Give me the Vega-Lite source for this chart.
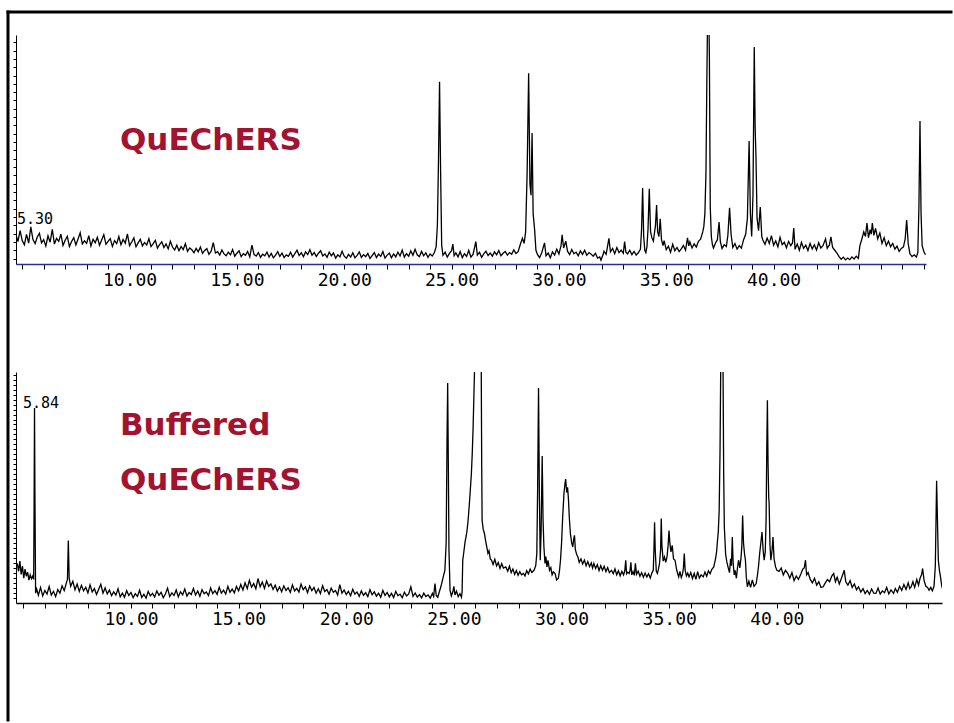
{
"$schema": "https://vega.github.io/schema/vega-lite/v6.json",
"padding": {"left": 5, "top": 9, "right": 0, "bottom": 0},
"background": "white",
"bounds": "flush",
"spacing": 108,
"config": {"view": {"stroke": null}, "axis": {"grid": false, "labelOverlap": false}},
"datasets": {
"quechers": [
{"time":4.72,"abundance":12.5},{"time":4.8,"abundance":9.8},{"time":4.9,"abundance":14.6},{"time":5.0,"abundance":10.2},{"time":5.1,"abundance":8.4},{"time":5.2,"abundance":12.9},{"time":5.3,"abundance":9.1},{"time":5.4,"abundance":16.2},{"time":5.5,"abundance":10.7},{"time":5.6,"abundance":8.9},
{"time":5.7,"abundance":11.8},{"time":5.8,"abundance":13.4},{"time":5.9,"abundance":9.2},{"time":6.0,"abundance":10.6},{"time":6.1,"abundance":7.8},{"time":6.2,"abundance":12.3},{"time":6.3,"abundance":9.5},{"time":6.4,"abundance":15.1},{"time":6.5,"abundance":8.7},{"time":6.6,"abundance":11.2},
{"time":6.7,"abundance":9.9},{"time":6.8,"abundance":13.0},{"time":6.9,"abundance":8.1},{"time":7.0,"abundance":10.4},{"time":7.1,"abundance":12.1},{"time":7.2,"abundance":7.6},{"time":7.3,"abundance":9.8},{"time":7.4,"abundance":11.5},{"time":7.5,"abundance":8.3},{"time":7.6,"abundance":10.9},
{"time":7.7,"abundance":13.6},{"time":7.8,"abundance":8.8},{"time":7.9,"abundance":10.1},{"time":8.0,"abundance":9.0},{"time":8.1,"abundance":12.4},{"time":8.2,"abundance":7.9},{"time":8.3,"abundance":10.8},{"time":8.4,"abundance":9.3},{"time":8.5,"abundance":11.7},{"time":8.6,"abundance":8.2},
{"time":8.7,"abundance":10.5},{"time":8.8,"abundance":12.8},{"time":8.9,"abundance":8.6},{"time":9.0,"abundance":9.9},{"time":9.1,"abundance":11.1},{"time":9.2,"abundance":7.7},{"time":9.3,"abundance":10.2},{"time":9.4,"abundance":8.9},{"time":9.5,"abundance":12.0},{"time":9.6,"abundance":8.4},
{"time":9.7,"abundance":10.7},{"time":9.8,"abundance":9.1},{"time":9.9,"abundance":13.2},{"time":10.0,"abundance":8.0},{"time":10.1,"abundance":9.6},{"time":10.2,"abundance":11.4},{"time":10.3,"abundance":7.5},{"time":10.4,"abundance":9.2},{"time":10.5,"abundance":10.8},{"time":10.6,"abundance":7.9},
{"time":10.7,"abundance":9.4},{"time":10.8,"abundance":8.3},{"time":10.9,"abundance":11.0},{"time":11.0,"abundance":7.6},{"time":11.1,"abundance":8.9},{"time":11.2,"abundance":10.3},{"time":11.3,"abundance":6.9},{"time":11.4,"abundance":8.5},{"time":11.5,"abundance":9.7},{"time":11.6,"abundance":7.2},
{"time":11.7,"abundance":8.8},{"time":11.8,"abundance":6.6},{"time":11.9,"abundance":9.9},{"time":12.0,"abundance":7.4},{"time":12.1,"abundance":6.1},{"time":12.2,"abundance":8.2},{"time":12.3,"abundance":5.8},{"time":12.4,"abundance":7.6},{"time":12.5,"abundance":6.3},{"time":12.6,"abundance":8.9},
{"time":12.7,"abundance":5.5},{"time":12.8,"abundance":7.0},{"time":12.9,"abundance":6.2},{"time":13.0,"abundance":4.9},{"time":13.1,"abundance":6.8},{"time":13.2,"abundance":5.3},{"time":13.3,"abundance":7.4},{"time":13.4,"abundance":4.6},{"time":13.5,"abundance":5.9},{"time":13.6,"abundance":6.7},
{"time":13.7,"abundance":4.2},{"time":13.8,"abundance":5.6},{"time":13.9,"abundance":9.3},{"time":14.0,"abundance":4.8},{"time":14.1,"abundance":5.4},{"time":14.2,"abundance":3.9},{"time":14.3,"abundance":6.1},{"time":14.4,"abundance":4.4},{"time":14.5,"abundance":3.6},{"time":14.6,"abundance":5.2},
{"time":14.7,"abundance":4.0},{"time":14.8,"abundance":6.3},{"time":14.9,"abundance":3.4},{"time":15.0,"abundance":4.7},{"time":15.1,"abundance":5.8},{"time":15.2,"abundance":3.2},{"time":15.3,"abundance":4.5},{"time":15.4,"abundance":3.8},{"time":15.5,"abundance":5.5},{"time":15.6,"abundance":3.1},
{"time":15.7,"abundance":8.2},{"time":15.8,"abundance":4.1},{"time":15.9,"abundance":3.5},{"time":16.0,"abundance":5.0},{"time":16.1,"abundance":2.9},{"time":16.2,"abundance":4.3},{"time":16.3,"abundance":3.6},{"time":16.4,"abundance":5.2},{"time":16.5,"abundance":3.0},{"time":16.6,"abundance":4.6},
{"time":16.7,"abundance":2.7},{"time":16.8,"abundance":3.9},{"time":16.9,"abundance":5.4},{"time":17.0,"abundance":3.3},{"time":17.1,"abundance":4.8},{"time":17.2,"abundance":2.8},{"time":17.3,"abundance":4.0},{"time":17.4,"abundance":3.4},{"time":17.5,"abundance":5.1},{"time":17.6,"abundance":3.0},
{"time":17.7,"abundance":4.5},{"time":17.8,"abundance":6.0},{"time":17.9,"abundance":3.7},{"time":18.0,"abundance":4.9},{"time":18.1,"abundance":3.2},{"time":18.2,"abundance":5.3},{"time":18.3,"abundance":4.1},{"time":18.4,"abundance":6.2},{"time":18.5,"abundance":3.8},{"time":18.6,"abundance":5.0},
{"time":18.7,"abundance":3.3},{"time":18.8,"abundance":4.7},{"time":18.9,"abundance":5.8},{"time":19.0,"abundance":3.5},{"time":19.1,"abundance":4.4},{"time":19.2,"abundance":2.9},{"time":19.3,"abundance":5.2},{"time":19.4,"abundance":3.6},{"time":19.5,"abundance":4.8},{"time":19.6,"abundance":2.6},
{"time":19.7,"abundance":4.0},{"time":19.8,"abundance":3.1},{"time":19.9,"abundance":5.6},{"time":20.0,"abundance":3.4},{"time":20.1,"abundance":2.5},{"time":20.2,"abundance":4.2},{"time":20.3,"abundance":3.0},{"time":20.4,"abundance":4.9},{"time":20.5,"abundance":2.7},{"time":20.6,"abundance":3.8},
{"time":20.7,"abundance":5.3},{"time":20.8,"abundance":2.9},{"time":20.9,"abundance":4.1},{"time":21.0,"abundance":3.2},{"time":21.1,"abundance":4.6},{"time":21.2,"abundance":2.4},{"time":21.3,"abundance":3.7},{"time":21.4,"abundance":5.0},{"time":21.5,"abundance":2.8},{"time":21.6,"abundance":4.3},
{"time":21.7,"abundance":3.3},{"time":21.8,"abundance":5.4},{"time":21.9,"abundance":2.6},{"time":22.0,"abundance":3.9},{"time":22.1,"abundance":4.8},{"time":22.2,"abundance":2.7},{"time":22.3,"abundance":4.4},{"time":22.4,"abundance":3.1},{"time":22.5,"abundance":5.2},{"time":22.6,"abundance":3.5},
{"time":22.7,"abundance":6.1},{"time":22.8,"abundance":3.0},{"time":22.9,"abundance":4.5},{"time":23.0,"abundance":3.4},{"time":23.1,"abundance":5.7},{"time":23.2,"abundance":3.8},{"time":23.3,"abundance":6.4},{"time":23.4,"abundance":4.0},{"time":23.5,"abundance":3.2},{"time":23.6,"abundance":5.5},
{"time":23.7,"abundance":3.6},{"time":23.8,"abundance":4.9},{"time":23.9,"abundance":2.9},{"time":24.0,"abundance":4.4},{"time":24.1,"abundance":3.5},{"time":24.2,"abundance":5.0},{"time":24.28,"abundance":7.5},{"time":24.34,"abundance":17.0},{"time":24.39,"abundance":45.0},{"time":24.44,"abundance":79.6},
{"time":24.49,"abundance":40.0},{"time":24.54,"abundance":8.0},{"time":24.6,"abundance":3.8},{"time":24.7,"abundance":5.2},{"time":24.8,"abundance":3.0},{"time":24.9,"abundance":4.6},{"time":25.0,"abundance":5.8},{"time":25.06,"abundance":8.7},{"time":25.12,"abundance":3.6},{"time":25.2,"abundance":4.9},
{"time":25.3,"abundance":3.1},{"time":25.4,"abundance":5.4},{"time":25.5,"abundance":2.8},{"time":25.6,"abundance":4.5},{"time":25.7,"abundance":3.3},{"time":25.8,"abundance":6.0},{"time":25.9,"abundance":3.0},{"time":26.0,"abundance":4.2},{"time":26.13,"abundance":9.8},{"time":26.2,"abundance":3.9},
{"time":26.3,"abundance":5.1},{"time":26.4,"abundance":2.9},{"time":26.5,"abundance":4.4},{"time":26.6,"abundance":5.6},{"time":26.7,"abundance":3.7},{"time":26.8,"abundance":4.8},{"time":26.9,"abundance":3.4},{"time":27.0,"abundance":5.3},{"time":27.1,"abundance":4.0},{"time":27.2,"abundance":5.9},
{"time":27.3,"abundance":3.6},{"time":27.4,"abundance":4.7},{"time":27.5,"abundance":5.5},{"time":27.6,"abundance":3.9},{"time":27.7,"abundance":5.0},{"time":27.8,"abundance":4.3},{"time":27.9,"abundance":6.2},{"time":28.0,"abundance":4.6},{"time":28.1,"abundance":5.4},{"time":28.2,"abundance":8.5},
{"time":28.3,"abundance":11.2},{"time":28.38,"abundance":9.0},{"time":28.45,"abundance":14.0},{"time":28.52,"abundance":40.0},{"time":28.59,"abundance":83.3},{"time":28.65,"abundance":35.0},{"time":28.7,"abundance":30.0},{"time":28.75,"abundance":57.2},{"time":28.8,"abundance":22.0},{"time":28.87,"abundance":14.8},
{"time":28.93,"abundance":6.0},{"time":29.0,"abundance":4.2},{"time":29.1,"abundance":2.8},{"time":29.2,"abundance":4.9},{"time":29.33,"abundance":9.2},{"time":29.4,"abundance":3.6},{"time":29.5,"abundance":4.8},{"time":29.6,"abundance":2.7},{"time":29.7,"abundance":5.3},{"time":29.8,"abundance":3.9},
{"time":29.9,"abundance":6.5},{"time":30.0,"abundance":4.4},{"time":30.1,"abundance":8.0},{"time":30.15,"abundance":12.7},{"time":30.22,"abundance":7.0},{"time":30.32,"abundance":10.0},{"time":30.4,"abundance":5.6},{"time":30.5,"abundance":4.1},{"time":30.6,"abundance":6.3},{"time":30.7,"abundance":4.5},
{"time":30.8,"abundance":5.2},{"time":30.9,"abundance":3.6},{"time":31.0,"abundance":5.7},{"time":31.1,"abundance":4.2},{"time":31.2,"abundance":6.0},{"time":31.3,"abundance":3.8},{"time":31.4,"abundance":5.0},{"time":31.5,"abundance":4.3},{"time":31.6,"abundance":3.4},{"time":31.7,"abundance":4.7},
{"time":31.8,"abundance":2.6},{"time":31.9,"abundance":3.1},{"time":31.96,"abundance":1.7},{"time":32.05,"abundance":3.9},{"time":32.1,"abundance":5.6},{"time":32.2,"abundance":4.2},{"time":32.33,"abundance":11.2},{"time":32.4,"abundance":5.3},{"time":32.5,"abundance":6.8},{"time":32.6,"abundance":4.5},
{"time":32.7,"abundance":7.2},{"time":32.8,"abundance":5.0},{"time":32.9,"abundance":6.1},{"time":33.0,"abundance":4.7},{"time":33.06,"abundance":9.8},{"time":33.12,"abundance":5.2},{"time":33.2,"abundance":4.4},{"time":33.3,"abundance":6.0},{"time":33.4,"abundance":4.1},{"time":33.5,"abundance":5.5},
{"time":33.6,"abundance":3.9},{"time":33.7,"abundance":4.9},{"time":33.8,"abundance":6.5},{"time":33.85,"abundance":15.0},{"time":33.9,"abundance":33.2},{"time":33.95,"abundance":12.0},{"time":34.0,"abundance":6.0},{"time":34.05,"abundance":5.0},{"time":34.1,"abundance":7.5},{"time":34.15,"abundance":15.0},
{"time":34.21,"abundance":32.8},{"time":34.27,"abundance":14.0},{"time":34.33,"abundance":11.5},{"time":34.4,"abundance":10.0},{"time":34.45,"abundance":13.5},{"time":34.5,"abundance":17.0},{"time":34.55,"abundance":25.8},{"time":34.6,"abundance":14.0},{"time":34.66,"abundance":12.0},{"time":34.72,"abundance":19.7},
{"time":34.78,"abundance":10.5},{"time":34.85,"abundance":8.0},{"time":34.9,"abundance":10.2},{"time":35.0,"abundance":6.3},{"time":35.1,"abundance":7.8},{"time":35.2,"abundance":5.1},{"time":35.3,"abundance":8.6},{"time":35.4,"abundance":5.8},{"time":35.5,"abundance":7.2},{"time":35.6,"abundance":5.4},
{"time":35.7,"abundance":6.6},{"time":35.8,"abundance":8.1},{"time":35.9,"abundance":6.0},{"time":35.99,"abundance":11.4},{"time":36.05,"abundance":7.9},{"time":36.1,"abundance":9.6},{"time":36.2,"abundance":7.0},{"time":36.3,"abundance":8.8},{"time":36.4,"abundance":7.4},{"time":36.5,"abundance":9.9},
{"time":36.6,"abundance":10.8},{"time":36.7,"abundance":14.0},{"time":36.75,"abundance":16.3},{"time":36.8,"abundance":22.0},{"time":36.85,"abundance":40.0},{"time":36.89,"abundance":79.0},{"time":36.93,"abundance":112.0},{"time":36.97,"abundance":120.0},{"time":37.01,"abundance":90.0},{"time":37.05,"abundance":25.0},
{"time":37.1,"abundance":12.0},{"time":37.15,"abundance":8.5},{"time":37.2,"abundance":7.0},{"time":37.3,"abundance":9.3},{"time":37.38,"abundance":10.5},{"time":37.46,"abundance":18.3},{"time":37.52,"abundance":9.8},{"time":37.6,"abundance":6.8},{"time":37.7,"abundance":8.4},{"time":37.8,"abundance":7.6},
{"time":37.87,"abundance":12.5},{"time":37.95,"abundance":24.5},{"time":38.02,"abundance":13.0},{"time":38.1,"abundance":7.2},{"time":38.2,"abundance":8.9},{"time":38.3,"abundance":6.5},{"time":38.4,"abundance":8.0},{"time":38.5,"abundance":6.9},{"time":38.6,"abundance":10.5},{"time":38.7,"abundance":13.0},
{"time":38.78,"abundance":20.0},{"time":38.86,"abundance":53.7},{"time":38.92,"abundance":22.0},{"time":38.98,"abundance":12.0},{"time":39.04,"abundance":30.0},{"time":39.1,"abundance":94.8},{"time":39.14,"abundance":60.0},{"time":39.18,"abundance":46.7},{"time":39.23,"abundance":20.0},{"time":39.3,"abundance":14.5},
{"time":39.38,"abundance":24.9},{"time":39.45,"abundance":12.0},{"time":39.5,"abundance":10.5},{"time":39.6,"abundance":8.6},{"time":39.7,"abundance":11.3},{"time":39.8,"abundance":9.0},{"time":39.9,"abundance":12.4},{"time":40.0,"abundance":8.2},{"time":40.1,"abundance":10.1},{"time":40.2,"abundance":7.5},
{"time":40.3,"abundance":11.6},{"time":40.4,"abundance":8.4},{"time":40.5,"abundance":9.5},{"time":40.6,"abundance":7.1},{"time":40.7,"abundance":9.9},{"time":40.8,"abundance":8.0},{"time":40.88,"abundance":9.2},{"time":40.94,"abundance":15.7},{"time":41.0,"abundance":6.4},{"time":41.1,"abundance":8.7},
{"time":41.2,"abundance":6.0},{"time":41.3,"abundance":9.4},{"time":41.4,"abundance":6.8},{"time":41.5,"abundance":8.2},{"time":41.6,"abundance":5.9},{"time":41.7,"abundance":9.0},{"time":41.8,"abundance":6.6},{"time":41.9,"abundance":8.4},{"time":42.0,"abundance":6.1},{"time":42.1,"abundance":9.3},
{"time":42.2,"abundance":7.0},{"time":42.3,"abundance":8.0},{"time":42.42,"abundance":11.0},{"time":42.5,"abundance":6.9},{"time":42.6,"abundance":8.3},{"time":42.67,"abundance":11.8},{"time":42.75,"abundance":7.2},{"time":42.85,"abundance":6.0},{"time":42.95,"abundance":4.8},{"time":43.05,"abundance":3.2},
{"time":43.15,"abundance":2.1},{"time":43.25,"abundance":3.0},{"time":43.35,"abundance":1.8},{"time":43.45,"abundance":2.6},{"time":43.55,"abundance":1.9},{"time":43.65,"abundance":3.1},{"time":43.75,"abundance":2.2},{"time":43.85,"abundance":3.4},{"time":43.95,"abundance":2.5},{"time":44.02,"abundance":8.0},
{"time":44.1,"abundance":10.5},{"time":44.2,"abundance":14.0},{"time":44.28,"abundance":12.0},{"time":44.35,"abundance":17.9},{"time":44.42,"abundance":11.5},{"time":44.5,"abundance":15.0},{"time":44.55,"abundance":13.0},{"time":44.6,"abundance":17.9},{"time":44.67,"abundance":12.5},{"time":44.75,"abundance":15.5},
{"time":44.85,"abundance":11.0},{"time":44.95,"abundance":13.5},{"time":45.05,"abundance":9.0},{"time":45.15,"abundance":11.5},{"time":45.25,"abundance":8.0},{"time":45.35,"abundance":10.0},{"time":45.45,"abundance":7.5},{"time":45.55,"abundance":9.0},{"time":45.65,"abundance":6.5},{"time":45.75,"abundance":7.8},
{"time":45.85,"abundance":5.5},{"time":45.95,"abundance":6.8},{"time":46.05,"abundance":7.5},{"time":46.13,"abundance":11.0},{"time":46.2,"abundance":19.2},{"time":46.27,"abundance":9.0},{"time":46.35,"abundance":4.5},{"time":46.45,"abundance":3.2},{"time":46.55,"abundance":4.0},{"time":46.65,"abundance":3.0},
{"time":46.72,"abundance":5.0},{"time":46.77,"abundance":25.0},{"time":46.82,"abundance":62.4},{"time":46.87,"abundance":22.0},{"time":46.92,"abundance":8.0},{"time":47.0,"abundance":5.5},{"time":47.07,"abundance":4.0}
],
"buffered": [
{"time":4.72,"abundance":16.0},{"time":4.78,"abundance":12.5},{"time":4.84,"abundance":17.0},{"time":4.9,"abundance":11.2},{"time":4.96,"abundance":14.8},{"time":5.02,"abundance":9.6},{"time":5.08,"abundance":13.5},{"time":5.14,"abundance":10.4},{"time":5.2,"abundance":12.2},{"time":5.26,"abundance":8.7},
{"time":5.32,"abundance":11.0},{"time":5.38,"abundance":9.3},{"time":5.44,"abundance":10.5},{"time":5.48,"abundance":9.0},{"time":5.5,"abundance":40.0},{"time":5.52,"abundance":84.0},{"time":5.54,"abundance":45.0},{"time":5.57,"abundance":3.0},{"time":5.62,"abundance":4.8},{"time":5.7,"abundance":2.1},
{"time":5.8,"abundance":5.5},{"time":5.9,"abundance":1.8},{"time":6.0,"abundance":4.2},{"time":6.1,"abundance":2.6},{"time":6.2,"abundance":5.9},{"time":6.3,"abundance":2.2},{"time":6.4,"abundance":3.8},{"time":6.5,"abundance":1.5},{"time":6.6,"abundance":4.6},{"time":6.7,"abundance":3.0},
{"time":6.8,"abundance":6.2},{"time":6.9,"abundance":4.1},{"time":7.0,"abundance":7.5},{"time":7.05,"abundance":9.0},{"time":7.09,"abundance":26.0},{"time":7.13,"abundance":9.5},{"time":7.2,"abundance":6.0},{"time":7.3,"abundance":8.2},{"time":7.4,"abundance":4.5},{"time":7.5,"abundance":7.0},
{"time":7.6,"abundance":3.8},{"time":7.7,"abundance":6.4},{"time":7.8,"abundance":4.0},{"time":7.9,"abundance":5.6},{"time":8.0,"abundance":3.1},{"time":8.1,"abundance":6.6},{"time":8.2,"abundance":3.5},{"time":8.3,"abundance":5.0},{"time":8.4,"abundance":2.4},{"time":8.5,"abundance":4.7},
{"time":8.6,"abundance":6.9},{"time":8.7,"abundance":3.0},{"time":8.8,"abundance":5.3},{"time":8.9,"abundance":2.7},{"time":9.0,"abundance":4.4},{"time":9.1,"abundance":1.9},{"time":9.2,"abundance":3.6},{"time":9.3,"abundance":2.2},{"time":9.4,"abundance":4.9},{"time":9.5,"abundance":1.4},
{"time":9.6,"abundance":3.0},{"time":9.7,"abundance":1.2},{"time":9.8,"abundance":4.1},{"time":9.9,"abundance":2.0},{"time":10.0,"abundance":3.3},{"time":10.1,"abundance":1.0},{"time":10.2,"abundance":2.8},{"time":10.3,"abundance":1.6},{"time":10.4,"abundance":4.3},{"time":10.5,"abundance":1.1},
{"time":10.6,"abundance":2.5},{"time":10.7,"abundance":0.8},{"time":10.8,"abundance":3.7},{"time":10.9,"abundance":1.8},{"time":11.0,"abundance":2.9},{"time":11.1,"abundance":1.3},{"time":11.2,"abundance":4.0},{"time":11.3,"abundance":2.1},{"time":11.4,"abundance":3.4},{"time":11.5,"abundance":1.0},
{"time":11.6,"abundance":2.6},{"time":11.7,"abundance":5.2},{"time":11.8,"abundance":1.5},{"time":11.9,"abundance":3.1},{"time":12.0,"abundance":2.0},{"time":12.1,"abundance":4.4},{"time":12.2,"abundance":1.4},{"time":12.3,"abundance":3.6},{"time":12.4,"abundance":2.3},{"time":12.5,"abundance":4.8},
{"time":12.6,"abundance":1.7},{"time":12.7,"abundance":3.3},{"time":12.8,"abundance":2.4},{"time":12.9,"abundance":5.0},{"time":13.0,"abundance":2.2},{"time":13.1,"abundance":3.9},{"time":13.2,"abundance":1.6},{"time":13.3,"abundance":4.5},{"time":13.4,"abundance":2.7},{"time":13.5,"abundance":3.5},
{"time":13.6,"abundance":1.9},{"time":13.7,"abundance":5.3},{"time":13.8,"abundance":2.8},{"time":13.9,"abundance":4.1},{"time":14.0,"abundance":2.5},{"time":14.1,"abundance":5.6},{"time":14.2,"abundance":3.0},{"time":14.3,"abundance":4.3},{"time":14.4,"abundance":2.6},{"time":14.5,"abundance":6.0},
{"time":14.6,"abundance":3.4},{"time":14.7,"abundance":4.8},{"time":14.8,"abundance":3.1},{"time":14.9,"abundance":5.9},{"time":15.0,"abundance":4.0},{"time":15.1,"abundance":6.8},{"time":15.2,"abundance":4.4},{"time":15.3,"abundance":7.5},{"time":15.4,"abundance":5.0},{"time":15.5,"abundance":8.6},
{"time":15.6,"abundance":5.6},{"time":15.7,"abundance":7.2},{"time":15.8,"abundance":4.9},{"time":15.9,"abundance":9.4},{"time":16.0,"abundance":5.8},{"time":16.1,"abundance":7.9},{"time":16.2,"abundance":5.1},{"time":16.3,"abundance":8.3},{"time":16.4,"abundance":6.0},{"time":16.5,"abundance":7.0},
{"time":16.6,"abundance":4.6},{"time":16.7,"abundance":6.5},{"time":16.8,"abundance":3.9},{"time":16.9,"abundance":5.7},{"time":17.0,"abundance":3.6},{"time":17.1,"abundance":6.2},{"time":17.2,"abundance":4.2},{"time":17.3,"abundance":5.4},{"time":17.4,"abundance":3.3},{"time":17.5,"abundance":6.6},
{"time":17.6,"abundance":4.0},{"time":17.7,"abundance":5.1},{"time":17.8,"abundance":3.5},{"time":17.9,"abundance":7.0},{"time":18.0,"abundance":4.5},{"time":18.1,"abundance":5.8},{"time":18.2,"abundance":3.2},{"time":18.3,"abundance":6.1},{"time":18.4,"abundance":4.1},{"time":18.5,"abundance":5.5},
{"time":18.6,"abundance":3.0},{"time":18.7,"abundance":4.9},{"time":18.8,"abundance":2.8},{"time":18.9,"abundance":6.3},{"time":19.0,"abundance":3.7},{"time":19.1,"abundance":4.6},{"time":19.2,"abundance":2.5},{"time":19.3,"abundance":5.2},{"time":19.4,"abundance":3.4},{"time":19.5,"abundance":4.2},
{"time":19.6,"abundance":2.2},{"time":19.7,"abundance":6.7},{"time":19.8,"abundance":3.0},{"time":19.9,"abundance":4.4},{"time":20.0,"abundance":2.4},{"time":20.1,"abundance":3.8},{"time":20.2,"abundance":1.9},{"time":20.3,"abundance":4.7},{"time":20.4,"abundance":2.6},{"time":20.5,"abundance":3.5},
{"time":20.6,"abundance":1.6},{"time":20.7,"abundance":4.0},{"time":20.8,"abundance":2.1},{"time":20.9,"abundance":3.2},{"time":21.0,"abundance":1.5},{"time":21.1,"abundance":4.5},{"time":21.2,"abundance":2.3},{"time":21.3,"abundance":3.6},{"time":21.4,"abundance":1.7},{"time":21.5,"abundance":3.0},
{"time":21.6,"abundance":1.2},{"time":21.7,"abundance":4.2},{"time":21.8,"abundance":2.0},{"time":21.9,"abundance":3.3},{"time":22.0,"abundance":1.4},{"time":22.1,"abundance":2.9},{"time":22.2,"abundance":1.1},{"time":22.3,"abundance":3.8},{"time":22.4,"abundance":1.9},{"time":22.5,"abundance":2.6},
{"time":22.6,"abundance":1.0},{"time":22.7,"abundance":3.4},{"time":22.8,"abundance":1.8},{"time":22.9,"abundance":2.7},{"time":23.0,"abundance":5.8},{"time":23.1,"abundance":1.6},{"time":23.2,"abundance":3.1},{"time":23.3,"abundance":1.3},{"time":23.4,"abundance":2.4},{"time":23.5,"abundance":0.9},
{"time":23.6,"abundance":3.0},{"time":23.7,"abundance":1.5},{"time":23.8,"abundance":2.2},{"time":23.9,"abundance":0.8},{"time":24.0,"abundance":2.9},{"time":24.06,"abundance":1.6},{"time":24.12,"abundance":7.2},{"time":24.18,"abundance":2.0},{"time":24.25,"abundance":1.2},{"time":24.32,"abundance":3.5},
{"time":24.4,"abundance":6.0},{"time":24.5,"abundance":10.0},{"time":24.58,"abundance":13.0},{"time":24.64,"abundance":25.0},{"time":24.68,"abundance":70.0},{"time":24.71,"abundance":94.9},{"time":24.74,"abundance":60.0},{"time":24.77,"abundance":22.0},{"time":24.82,"abundance":4.3},{"time":24.88,"abundance":1.8},
{"time":24.95,"abundance":3.6},{"time":25.0,"abundance":6.0},{"time":25.05,"abundance":2.2},{"time":25.12,"abundance":3.9},{"time":25.2,"abundance":1.5},{"time":25.28,"abundance":2.8},{"time":25.35,"abundance":1.2},{"time":25.38,"abundance":3.5},{"time":25.41,"abundance":17.4},{"time":25.46,"abundance":21.0},
{"time":25.52,"abundance":25.5},{"time":25.57,"abundance":28.0},{"time":25.61,"abundance":30.4},{"time":25.66,"abundance":35.0},{"time":25.71,"abundance":41.0},{"time":25.77,"abundance":49.3},{"time":25.81,"abundance":55.0},{"time":25.85,"abundance":63.8},{"time":25.89,"abundance":75.0},{"time":25.93,"abundance":90.0},
{"time":25.97,"abundance":105.0},{"time":26.03,"abundance":130.0},{"time":26.1,"abundance":150.0},{"time":26.17,"abundance":140.0},{"time":26.23,"abundance":118.0},{"time":26.27,"abundance":100.0},{"time":26.29,"abundance":60.0},{"time":26.31,"abundance":34.8},{"time":26.36,"abundance":31.0},{"time":26.42,"abundance":29.0},
{"time":26.47,"abundance":26.0},{"time":26.53,"abundance":23.0},{"time":26.58,"abundance":20.4},{"time":26.63,"abundance":21.5},{"time":26.69,"abundance":18.0},{"time":26.75,"abundance":17.4},{"time":26.82,"abundance":15.5},{"time":26.9,"abundance":17.8},{"time":26.98,"abundance":14.9},{"time":27.06,"abundance":16.4},
{"time":27.14,"abundance":13.8},{"time":27.22,"abundance":15.9},{"time":27.3,"abundance":14.0},{"time":27.41,"abundance":14.5},{"time":27.5,"abundance":12.6},{"time":27.58,"abundance":14.8},{"time":27.66,"abundance":12.0},{"time":27.74,"abundance":13.6},{"time":27.82,"abundance":11.2},{"time":27.9,"abundance":12.9},
{"time":27.98,"abundance":10.8},{"time":28.06,"abundance":12.4},{"time":28.14,"abundance":11.0},{"time":28.23,"abundance":11.6},{"time":28.3,"abundance":10.5},{"time":28.38,"abundance":12.8},{"time":28.46,"abundance":11.4},{"time":28.54,"abundance":13.5},{"time":28.62,"abundance":12.1},{"time":28.72,"abundance":13.0},
{"time":28.8,"abundance":15.0},{"time":28.85,"abundance":20.3},{"time":28.89,"abundance":50.0},{"time":28.93,"abundance":92.7},{"time":28.97,"abundance":45.0},{"time":29.01,"abundance":17.4},{"time":29.05,"abundance":30.0},{"time":29.1,"abundance":63.0},{"time":29.14,"abundance":35.0},{"time":29.18,"abundance":23.2},
{"time":29.23,"abundance":16.0},{"time":29.27,"abundance":19.0},{"time":29.32,"abundance":14.5},{"time":29.37,"abundance":17.4},{"time":29.44,"abundance":13.0},{"time":29.5,"abundance":14.2},{"time":29.56,"abundance":11.0},{"time":29.62,"abundance":12.3},{"time":29.7,"abundance":11.6},{"time":29.77,"abundance":8.8},
{"time":29.85,"abundance":9.5},{"time":29.9,"abundance":12.5},{"time":29.95,"abundance":17.4},{"time":30.0,"abundance":25.0},{"time":30.05,"abundance":36.0},{"time":30.11,"abundance":46.4},{"time":30.16,"abundance":51.0},{"time":30.19,"abundance":52.9},{"time":30.24,"abundance":47.0},{"time":30.28,"abundance":49.3},
{"time":30.32,"abundance":44.0},{"time":30.36,"abundance":36.0},{"time":30.41,"abundance":29.0},{"time":30.47,"abundance":25.0},{"time":30.52,"abundance":23.2},{"time":30.56,"abundance":26.5},{"time":30.6,"abundance":28.3},{"time":30.64,"abundance":22.0},{"time":30.7,"abundance":20.0},{"time":30.76,"abundance":18.8},
{"time":30.82,"abundance":16.5},{"time":30.9,"abundance":18.0},{"time":30.98,"abundance":15.8},{"time":31.06,"abundance":17.5},{"time":31.14,"abundance":15.0},{"time":31.22,"abundance":16.8},{"time":31.3,"abundance":14.6},{"time":31.38,"abundance":16.2},{"time":31.44,"abundance":14.0},{"time":31.5,"abundance":16.0},
{"time":31.58,"abundance":13.8},{"time":31.66,"abundance":15.5},{"time":31.74,"abundance":12.9},{"time":31.82,"abundance":15.0},{"time":31.9,"abundance":13.0},{"time":31.98,"abundance":14.7},{"time":32.06,"abundance":12.4},{"time":32.14,"abundance":14.2},{"time":32.22,"abundance":12.0},{"time":32.32,"abundance":13.0},
{"time":32.4,"abundance":11.5},{"time":32.48,"abundance":13.6},{"time":32.56,"abundance":11.0},{"time":32.64,"abundance":12.8},{"time":32.72,"abundance":10.6},{"time":32.8,"abundance":12.5},{"time":32.88,"abundance":11.0},{"time":32.94,"abundance":13.0},{"time":32.98,"abundance":17.4},{"time":33.02,"abundance":11.5},
{"time":33.08,"abundance":12.2},{"time":33.14,"abundance":11.6},{"time":33.18,"abundance":13.0},{"time":33.22,"abundance":16.5},{"time":33.26,"abundance":11.0},{"time":33.32,"abundance":12.4},{"time":33.38,"abundance":10.8},{"time":33.43,"abundance":16.0},{"time":33.48,"abundance":11.2},{"time":33.56,"abundance":12.6},
{"time":33.64,"abundance":10.4},{"time":33.72,"abundance":12.0},{"time":33.8,"abundance":10.0},{"time":33.88,"abundance":11.8},{"time":33.96,"abundance":10.1},{"time":34.04,"abundance":11.5},{"time":34.12,"abundance":9.6},{"time":34.2,"abundance":12.0},{"time":34.26,"abundance":13.0},{"time":34.29,"abundance":22.0},
{"time":34.32,"abundance":34.0},{"time":34.35,"abundance":22.0},{"time":34.4,"abundance":12.5},{"time":34.45,"abundance":11.6},{"time":34.5,"abundance":13.5},{"time":34.55,"abundance":16.0},{"time":34.6,"abundance":22.0},{"time":34.63,"abundance":35.6},{"time":34.66,"abundance":24.0},{"time":34.72,"abundance":17.0},
{"time":34.78,"abundance":18.8},{"time":34.84,"abundance":16.5},{"time":34.9,"abundance":19.0},{"time":34.95,"abundance":24.0},{"time":34.99,"abundance":30.4},{"time":35.03,"abundance":25.0},{"time":35.08,"abundance":21.0},{"time":35.14,"abundance":23.9},{"time":35.2,"abundance":18.0},{"time":35.27,"abundance":17.4},
{"time":35.35,"abundance":13.0},{"time":35.44,"abundance":10.1},{"time":35.5,"abundance":12.5},{"time":35.56,"abundance":9.8},{"time":35.62,"abundance":11.4},{"time":35.66,"abundance":14.0},{"time":35.7,"abundance":20.3},{"time":35.74,"abundance":13.0},{"time":35.8,"abundance":10.5},{"time":35.86,"abundance":11.8},
{"time":35.92,"abundance":10.1},{"time":36.0,"abundance":12.0},{"time":36.08,"abundance":9.4},{"time":36.16,"abundance":11.6},{"time":36.24,"abundance":9.0},{"time":36.32,"abundance":12.4},{"time":36.4,"abundance":9.6},{"time":36.48,"abundance":11.0},{"time":36.58,"abundance":10.1},{"time":36.66,"abundance":12.2},
{"time":36.74,"abundance":10.4},{"time":36.82,"abundance":12.8},{"time":36.9,"abundance":11.5},{"time":36.98,"abundance":13.4},{"time":37.07,"abundance":14.5},{"time":37.15,"abundance":18.0},{"time":37.2,"abundance":21.0},{"time":37.23,"abundance":24.6},{"time":37.28,"abundance":30.0},{"time":37.32,"abundance":39.0},
{"time":37.36,"abundance":65.0},{"time":37.4,"abundance":110.0},{"time":37.45,"abundance":140.0},{"time":37.5,"abundance":100.0},{"time":37.53,"abundance":55.0},{"time":37.56,"abundance":32.0},{"time":37.62,"abundance":20.0},{"time":37.67,"abundance":17.0},{"time":37.73,"abundance":14.5},{"time":37.8,"abundance":12.0},
{"time":37.85,"abundance":18.0},{"time":37.89,"abundance":15.0},{"time":37.93,"abundance":27.5},{"time":37.97,"abundance":16.0},{"time":38.02,"abundance":11.0},{"time":38.06,"abundance":13.0},{"time":38.12,"abundance":9.5},{"time":38.17,"abundance":14.0},{"time":38.22,"abundance":17.4},{"time":38.28,"abundance":14.0},
{"time":38.33,"abundance":18.0},{"time":38.37,"abundance":23.0},{"time":38.41,"abundance":37.0},{"time":38.45,"abundance":25.0},{"time":38.5,"abundance":20.0},{"time":38.54,"abundance":17.4},{"time":38.58,"abundance":10.0},{"time":38.63,"abundance":5.8},{"time":38.7,"abundance":8.2},{"time":38.78,"abundance":5.5},
{"time":38.86,"abundance":8.8},{"time":38.94,"abundance":6.0},{"time":39.04,"abundance":7.2},{"time":39.1,"abundance":11.0},{"time":39.15,"abundance":15.0},{"time":39.2,"abundance":20.3},{"time":39.25,"abundance":24.5},{"time":39.31,"abundance":29.7},{"time":39.36,"abundance":22.0},{"time":39.41,"abundance":17.4},
{"time":39.46,"abundance":21.0},{"time":39.5,"abundance":35.0},{"time":39.53,"abundance":65.0},{"time":39.56,"abundance":87.3},{"time":39.59,"abundance":60.0},{"time":39.62,"abundance":45.0},{"time":39.64,"abundance":42.7},{"time":39.68,"abundance":24.0},{"time":39.72,"abundance":17.4},{"time":39.77,"abundance":21.0},
{"time":39.82,"abundance":27.5},{"time":39.87,"abundance":18.0},{"time":39.94,"abundance":14.5},{"time":40.0,"abundance":13.0},{"time":40.1,"abundance":12.5},{"time":40.2,"abundance":14.0},{"time":40.3,"abundance":11.0},{"time":40.4,"abundance":13.0},{"time":40.51,"abundance":11.6},{"time":40.6,"abundance":9.5},
{"time":40.7,"abundance":12.0},{"time":40.8,"abundance":8.5},{"time":40.9,"abundance":10.5},{"time":41.0,"abundance":9.0},{"time":41.1,"abundance":11.0},{"time":41.2,"abundance":13.5},{"time":41.27,"abundance":14.0},{"time":41.33,"abundance":17.4},{"time":41.38,"abundance":11.0},{"time":41.45,"abundance":12.0},
{"time":41.55,"abundance":9.0},{"time":41.65,"abundance":7.5},{"time":41.75,"abundance":9.5},{"time":41.85,"abundance":6.5},{"time":41.95,"abundance":8.0},{"time":42.05,"abundance":5.5},{"time":42.15,"abundance":5.8},{"time":42.25,"abundance":7.5},{"time":42.35,"abundance":9.0},{"time":42.45,"abundance":8.0},
{"time":42.55,"abundance":10.5},{"time":42.64,"abundance":11.6},{"time":42.72,"abundance":8.0},{"time":42.8,"abundance":10.0},{"time":42.9,"abundance":7.0},{"time":43.0,"abundance":9.5},{"time":43.13,"abundance":13.0},{"time":43.2,"abundance":8.0},{"time":43.3,"abundance":6.5},{"time":43.4,"abundance":8.5},
{"time":43.5,"abundance":5.5},{"time":43.6,"abundance":7.0},{"time":43.7,"abundance":4.5},{"time":43.79,"abundance":5.8},{"time":43.9,"abundance":3.5},{"time":44.0,"abundance":5.0},{"time":44.1,"abundance":2.8},{"time":44.2,"abundance":4.2},{"time":44.3,"abundance":2.5},{"time":44.4,"abundance":4.8},
{"time":44.5,"abundance":3.0},{"time":44.6,"abundance":2.9},{"time":44.7,"abundance":5.2},{"time":44.8,"abundance":2.6},{"time":44.9,"abundance":4.0},{"time":45.0,"abundance":3.2},{"time":45.1,"abundance":5.5},{"time":45.2,"abundance":2.7},{"time":45.3,"abundance":4.4},{"time":45.42,"abundance":2.9},
{"time":45.5,"abundance":5.0},{"time":45.6,"abundance":3.4},{"time":45.7,"abundance":6.0},{"time":45.8,"abundance":4.2},{"time":45.9,"abundance":6.8},{"time":46.0,"abundance":4.6},{"time":46.1,"abundance":7.5},{"time":46.17,"abundance":5.0},{"time":46.24,"abundance":5.8},{"time":46.32,"abundance":8.0},
{"time":46.4,"abundance":5.5},{"time":46.5,"abundance":9.0},{"time":46.58,"abundance":6.5},{"time":46.65,"abundance":9.5},{"time":46.72,"abundance":11.0},{"time":46.77,"abundance":13.8},{"time":46.84,"abundance":8.5},{"time":46.92,"abundance":6.0},{"time":47.0,"abundance":5.5},{"time":47.07,"abundance":4.3},
{"time":47.15,"abundance":5.5},{"time":47.22,"abundance":4.0},{"time":47.3,"abundance":6.0},{"time":47.36,"abundance":15.0},{"time":47.42,"abundance":52.2},{"time":47.47,"abundance":30.0},{"time":47.5,"abundance":17.4},{"time":47.55,"abundance":13.0},{"time":47.6,"abundance":10.1},{"time":47.66,"abundance":6.0},{"time":47.72,"abundance":4.3}
]
},
"vconcat": [
{
"width": 910, "height": 229,
"layer": [
{"data": {"name": "quechers"},
 "mark": {"type": "line", "color": "black", "strokeWidth": 1.3, "clip": true},
 "encoding": {
  "x": {"field": "time", "type": "quantitative",
        "scale": {"domain": [4.71, 47.1], "nice": false, "zero": false},
        "axis": {"title": null, "tickCount": 500, "values": [5,6,7,8,9,10,11,12,13,14,15,16,17,18,19,20,21,22,23,24,25,26,27,28,29,30,31,32,33,34,35,36,37,38,39,40,41,42,43,44,45,46,47],
                 "labelExpr": "datum.value >= 10 && datum.value <= 40 && datum.value % 5 === 0 ? format(datum.value, '.2f') : ''",
                 "labelFont": "DejaVu Sans Mono", "labelFontSize": 18, "labelColor": "black", "labelPadding": 2,
                 "labelOverlap": false, "labelFlush": false, "tickColor": "black", "tickSize": 5,
                 "domainColor": "#2b2f8f", "domainWidth": 1.3, "grid": false}},
  "y": {"field": "abundance", "type": "quantitative",
        "scale": {"domain": [0, 100], "nice": false, "zero": false},
        "axis": {"title": null, "labels": false, "tickCount": 500, "values": [2.3,5.9,9.6,13.2,16.9,20.5,24.1,27.8,31.4,35.0,38.7,42.3,46.0,49.6,53.2,56.9,60.5,64.1,67.8,71.4,75.1,78.7,82.3,86.0,89.6,93.2,96.9],
                 "tickSize": 3, "tickColor": "black", "domainColor": "black", "grid": false}}
 }},
{"data": {"values": [{}]},
 "mark": {"type": "text", "text": "QuEChERS", "font": "DejaVu Sans", "fontSize": 31, "fontWeight": "bold", "color": "#a3122f", "align": "left", "baseline": "alphabetic"},
 "encoding": {"x": {"datum": 9.555, "type": "quantitative"}, "y": {"datum": 49.78, "type": "quantitative"}}},
{"data": {"values": [{}]},
 "mark": {"type": "text", "text": "5.30", "font": "DejaVu Sans Mono", "fontSize": 15, "color": "black", "align": "right", "baseline": "alphabetic"},
 "encoding": {"x": {"datum": 6.434, "type": "quantitative"}, "y": {"datum": 17.47, "type": "quantitative"}}},
{"data": {"values": [{}]},
 "mark": {"type": "rule", "color": "black", "strokeWidth": 3, "strokeCap": "square"},
 "encoding": {"x": {"datum": 4.337, "type": "quantitative"}, "y": {"datum": 110.04, "type": "quantitative"}, "y2": {"datum": -199.13}}},
{"data": {"values": [{}]},
 "mark": {"type": "rule", "color": "black", "strokeWidth": 3, "strokeCap": "square"},
 "encoding": {"x": {"datum": 4.337, "type": "quantitative"}, "x2": {"datum": 48.265}, "y": {"datum": 110.04, "type": "quantitative"}}}
]
},
{
"width": 926, "height": 231,
"layer": [
{"data": {"name": "buffered"},
 "mark": {"type": "line", "color": "black", "strokeWidth": 1.3, "clip": true},
 "encoding": {
  "x": {"field": "time", "type": "quantitative",
        "scale": {"domain": [4.66, 47.67], "nice": false, "zero": false},
        "axis": {"title": null, "tickCount": 500, "values": [5,6,7,8,9,10,11,12,13,14,15,16,17,18,19,20,21,22,23,24,25,26,27,28,29,30,31,32,33,34,35,36,37,38,39,40,41,42,43,44,45,46,47],
                 "labelExpr": "datum.value >= 10 && datum.value <= 40 && datum.value % 5 === 0 ? format(datum.value, '.2f') : ''",
                 "labelFont": "DejaVu Sans Mono", "labelFontSize": 18, "labelColor": "black", "labelPadding": 2,
                 "labelOverlap": false, "labelFlush": false, "tickColor": "black", "tickSize": 5,
                 "domainColor": "black", "domainWidth": 1.3, "grid": false}},
  "y": {"field": "abundance", "type": "quantitative",
        "scale": {"domain": [-1.3, 99.7], "nice": false, "zero": false},
        "axis": {"title": null, "labels": false, "tickCount": 500, "values": [1.0,3.2,5.3,7.5,9.7,11.8,14.0,16.2,18.3,20.5,22.7,24.8,27.0,29.1,31.3,33.5,35.6,37.8,40.0,42.1,44.3,46.5,48.6,50.8,53.0,55.1,57.3,59.5,61.6,63.8,66.0,68.1,70.3,72.5,74.6,76.8,78.9,81.1,83.3,85.4,87.6,89.8,91.9,94.1,96.3,98.4],
                 "tickSize": 3, "tickColor": "black", "domainColor": "black", "grid": false}}
 }},
{"data": {"values": [{}]},
 "mark": {"type": "text", "text": "Buffered", "font": "DejaVu Sans", "fontSize": 31, "fontWeight": "bold", "color": "#a3122f", "align": "left", "baseline": "alphabetic"},
 "encoding": {"x": {"datum": 9.49, "type": "quantitative"}, "y": {"datum": 72.3, "type": "quantitative"}}},
{"data": {"values": [{}]},
 "mark": {"type": "text", "text": "QuEChERS", "font": "DejaVu Sans", "fontSize": 31, "fontWeight": "bold", "color": "#a3122f", "align": "left", "baseline": "alphabetic"},
 "encoding": {"x": {"datum": 9.49, "type": "quantitative"}, "y": {"datum": 47.9, "type": "quantitative"}}},
{"data": {"values": [{}]},
 "mark": {"type": "text", "text": "5.84", "font": "DejaVu Sans Mono", "fontSize": 15, "color": "black", "align": "center", "baseline": "alphabetic"},
 "encoding": {"x": {"datum": 5.821, "type": "quantitative"}, "y": {"datum": 84.1, "type": "quantitative"}}}
]
}
]
}
